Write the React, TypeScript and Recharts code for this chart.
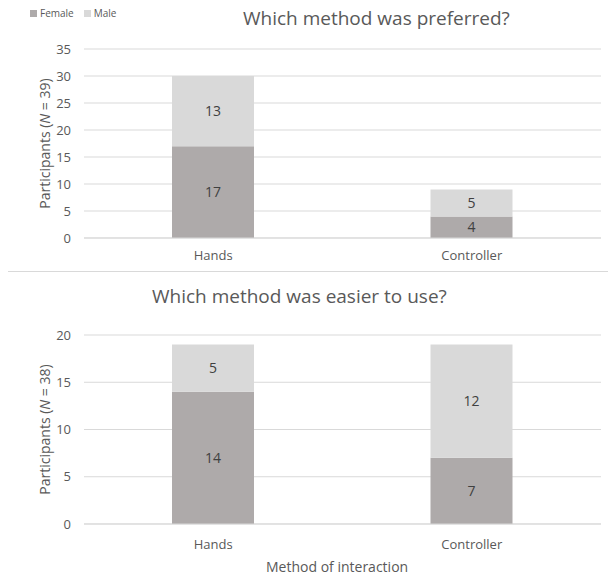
import { Bar, BarChart, CartesianGrid, LabelList, XAxis, YAxis } from "recharts";

const categories = ["Hands", "Controller"];
const preferredFemale = [17, 4];
const preferredMale = [13, 5];
const easierFemale = [14, 7];
const easierMale = [5, 12];
const preferredTicks = [0, 5, 10, 15, 20, 25, 30, 35];
const easierTicks = [0, 5, 10, 15, 20];

const FEMALE = "#aeaaaa";
const MALE = "#d9d9d9";
const TEXT = "#595959";
const FONT = "'Open Sans', sans-serif";

const preferredData = categories.map((name, i) => ({
  name,
  female: preferredFemale[i],
  male: preferredMale[i],
}));
const easierData = categories.map((name, i) => ({
  name,
  female: easierFemale[i],
  male: easierMale[i],
}));

function YLabel({ viewBox, n }: { viewBox?: any; n: number }) {
  const cy = viewBox.y + viewBox.height / 2;
  const x = 44;
  return (
    <text
      x={x}
      y={cy}
      transform={`rotate(-90, ${x}, ${cy})`}
      textAnchor="middle"
      dominantBaseline="central"
      fill={TEXT}
      fontSize={14}
      fontFamily={FONT}
    >
      Participants (<tspan fontStyle="italic">N</tspan> = {n})
    </text>
  );
}

function StackedChart({
  data,
  ticks,
  max,
  n,
  height,
  margin,
  xHeight,
  xTickMargin,
}: {
  data: any[];
  ticks: number[];
  max: number;
  n: number;
  height: number;
  margin: any;
  xHeight: number;
  xTickMargin: number;
}) {
  const tick = { fill: TEXT, fontSize: 13, fontFamily: FONT };
  return (
    <BarChart width={608} height={height} data={data} margin={margin}>
      <CartesianGrid vertical={false} stroke="#d9d9d9" />
      <XAxis
        dataKey="name"
        tick={tick}
        tickLine={false}
        axisLine={{ stroke: "#d9d9d9" }}
        height={xHeight}
        tickMargin={xTickMargin}
      />
      <YAxis
        domain={[0, max]}
        ticks={ticks}
        tick={tick}
        tickLine={false}
        axisLine={false}
        width={84}
        tickMargin={7}
        label={<YLabel n={n} />}
      />
      <Bar dataKey="female" stackId="a" fill={FEMALE} barSize={82} isAnimationActive={false}>
        <LabelList dataKey="female" position="center" fill="#404040" fontSize={14} fontFamily={FONT} />
      </Bar>
      <Bar dataKey="male" stackId="a" fill={MALE} barSize={82} isAnimationActive={false}>
        <LabelList dataKey="male" position="center" fill="#404040" fontSize={14} fontFamily={FONT} />
      </Bar>
    </BarChart>
  );
}

export default function App() {
  return (
    <div
      style={{
        position: "absolute",
        left: 0,
        top: 0,
        width: 608,
        height: 577,
        background: "#fff",
        fontFamily: FONT,
      }}
    >
      <div style={{ position: "absolute", left: 0, top: 0 }}>
        <StackedChart
          data={preferredData}
          ticks={preferredTicks}
          max={35}
          n={39}
          height={272}
          margin={{ top: 49, right: 7, bottom: 4, left: 0 }}
          xHeight={30}
          xTickMargin={7}
        />
      </div>
      <div style={{ position: "absolute", left: 0, top: 272 }}>
        <StackedChart
          data={easierData}
          ticks={easierTicks}
          max={20}
          n={38}
          height={305}
          margin={{ top: 63, right: 7, bottom: 13, left: 0 }}
          xHeight={40}
          xTickMargin={10}
        />
      </div>
      <div
        style={{
          position: "absolute",
          left: 8,
          right: 0,
          top: 271,
          borderTop: "1px solid #d9d9d9",
        }}
      />
      <div
        style={{
          position: "absolute",
          left: 30,
          top: 6,
          display: "flex",
          gap: 10,
          fontSize: 10,
          color: TEXT,
          alignItems: "center",
        }}
      >
        <span style={{ display: "flex", alignItems: "center", gap: 3 }}>
          <span style={{ width: 7, height: 7, background: FEMALE, display: "inline-block" }} />
          Female
        </span>
        <span style={{ display: "flex", alignItems: "center", gap: 3 }}>
          <span style={{ width: 7, height: 7, background: MALE, display: "inline-block" }} />
          Male
        </span>
      </div>
      <div
        style={{
          position: "absolute",
          left: 243,
          top: 5,
          fontSize: 19,
          color: TEXT,
          whiteSpace: "nowrap",
        }}
      >
        Which method was preferred?
      </div>
      <div
        style={{
          position: "absolute",
          left: 152,
          top: 283,
          fontSize: 19,
          color: TEXT,
          whiteSpace: "nowrap",
        }}
      >
        Which method was easier to use?
      </div>
      <div
        style={{
          position: "absolute",
          left: 266,
          top: 557,
          fontSize: 14,
          color: TEXT,
          whiteSpace: "nowrap",
        }}
      >
        Method of interaction
      </div>
    </div>
  );
}
